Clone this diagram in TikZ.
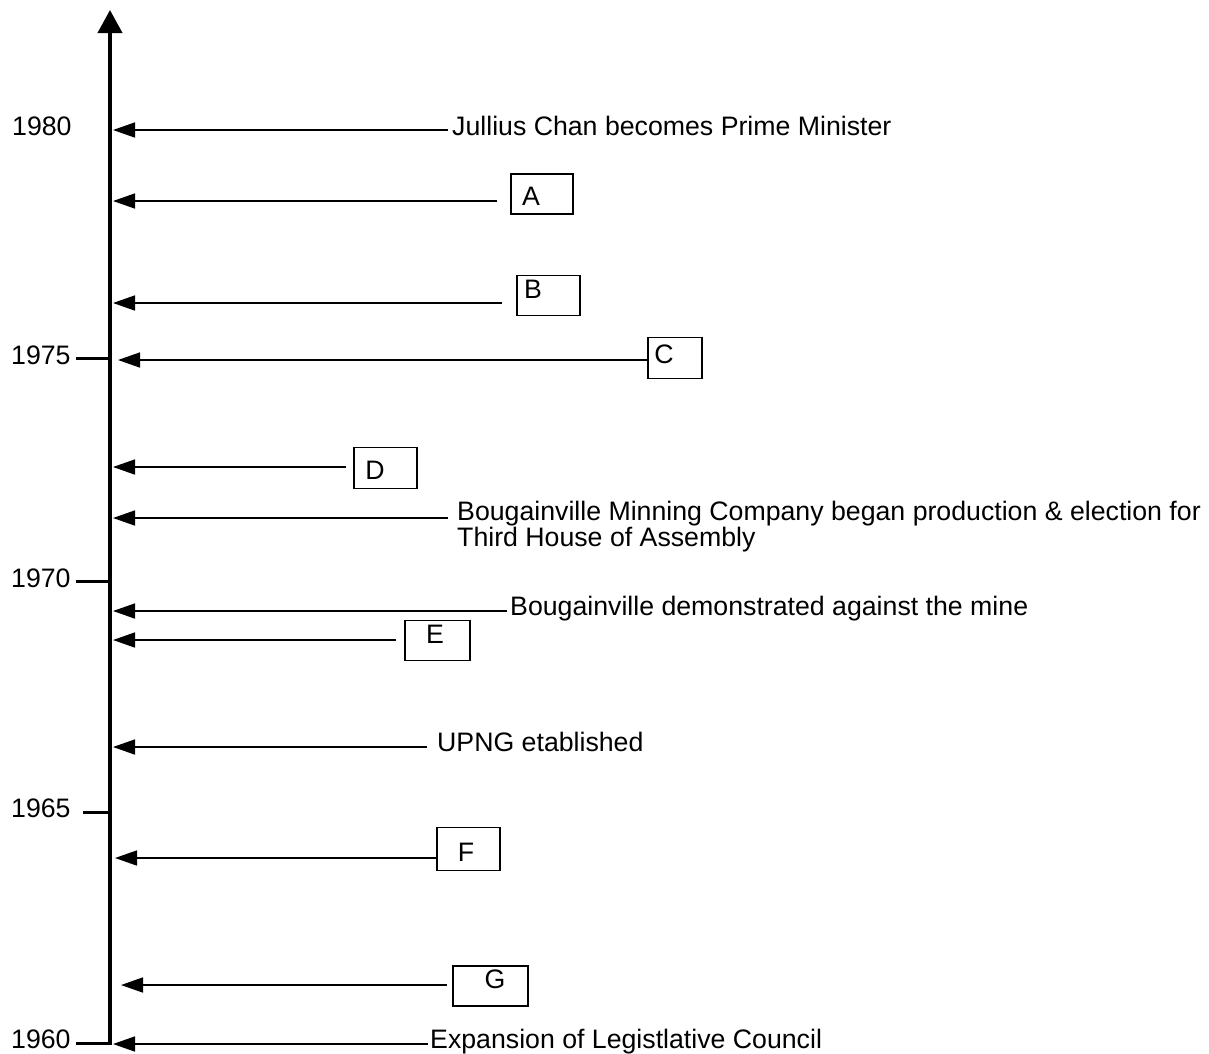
\documentclass[tikz,border=0pt]{standalone}
\usepackage{fontspec}
\setmainfont{Liberation Sans}
\usepackage{tikz}
\usetikzlibrary{arrows.meta}
\usetikzlibrary{calc}

\begin{document}
\begin{tikzpicture}[x=1pt,y=-1pt,
    evt/.style={-{Triangle[length=22pt,width=15pt]},line width=1.6pt},
    ltrbox/.style={draw=black,line width=1.8pt,inner sep=0pt},
    lbl/.style={inner sep=0pt,font=\fontsize{26.7}{24}\selectfont}]
    \useasboundingbox (0,0) rectangle (1209,1053);
    % time axis
    \coordinate (bot) at (110,1045);
    \coordinate (top) at (110,10);
    \draw[line width=4pt,-{Triangle[length=23pt,width=24pt]}] (bot) -- (top);
    \draw[line width=3pt] (76,358) -- (110,358);
    \draw[line width=3pt] (76,581) -- (110,581);
    \draw[line width=3pt] (83,812) -- (110,812);
    \draw[line width=3pt] (76,1043) -- (110,1043);
    \node[lbl,anchor=base west] (y80) at (12,135) {1980};
    \node[lbl,anchor=base west] (y75) at (11,364) {1975};
    \node[lbl,anchor=base west] (y70) at (11,587) {1970};
    \node[lbl,anchor=base west] (y65) at (11,817) {1965};
    \node[lbl,anchor=base west] (y60) at (11,1048) {1960};
    % arrow ends on the axis
    \coordinate (a1) at (113,130);
    \coordinate (a2) at (113,201);
    \coordinate (a3) at (113,303);
    \coordinate (a4) at (118,360);
    \coordinate (a5) at (113,467);
    \coordinate (a6) at (113,518);
    \coordinate (a7) at (113,611);
    \coordinate (a8) at (113,640);
    \coordinate (a9) at (113,747);
    \coordinate (a10) at (115,858);
    \coordinate (a11) at (121,985);
    \coordinate (a12) at (113,1044);
    % events
    \node[lbl,anchor=base west] (chan) at (452,135) {Jullius Chan becomes Prime Minister};
    \node[ltrbox,minimum width=62pt,minimum height=40pt] (bA) at (542,194) {};
    \node[lbl,anchor=base] (A) at (531,205) {A};
    \node[ltrbox,minimum width=63pt,minimum height=40pt] (bB) at (548.5,295.5) {};
    \node[lbl,anchor=base] (B) at (533,298) {B};
    \node[ltrbox,minimum width=54pt,minimum height=41pt] (bC) at (675,358) {};
    \node[lbl,anchor=base] (C) at (664,363) {C};
    \node[ltrbox,minimum width=63pt,minimum height=41pt] (bD) at (385.5,468) {};
    \node[lbl,anchor=base] (D) at (375,479) {D};
    \node[lbl,anchor=base west,align=left] (bmc) at (457,546) {Bougainville Minning Company began production \& election for\\Third House of Assembly};
    \node[lbl,anchor=base west] (demo) at (510,615) {Bougainville demonstrated against the mine};
    \node[ltrbox,minimum width=65pt,minimum height=40pt] (bE) at (437.5,640.5) {};
    \node[lbl,anchor=base] (E) at (435,643) {E};
    \node[lbl,anchor=base west] (upng) at (437,751) {UPNG etablished};
    \node[ltrbox,minimum width=63pt,minimum height=43pt] (bF) at (468.5,849) {};
    \node[lbl,anchor=base] (F) at (466,861) {F};
    \node[ltrbox,minimum width=75pt,minimum height=40pt] (bG) at (490.5,986) {};
    \node[lbl,anchor=base] (G) at (495,988) {G};
    \node[lbl,anchor=base west] (lc) at (430,1048) {Expansion of Legistlative Council};
    \draw[evt,shorten <=4pt] (chan.west |- a1) -- (a1);
    \draw[evt,shorten <=13pt] (bA.west |- a2) -- (a2);
    \draw[evt,shorten <=14pt] (bB.west |- a3) -- (a3);
    \draw[evt] (bC.west |- a4) -- (a4);
    \draw[evt,shorten <=7pt] (bD.west |- a5) -- (a5);
    \draw[evt,shorten <=9pt] (bmc.west |- a6) -- (a6);
    \draw[evt,shorten <=3pt] (demo.west |- a7) -- (a7);
    \draw[evt,shorten <=8pt] (bE.west |- a8) -- (a8);
    \draw[evt,shorten <=10pt] (upng.west |- a9) -- (a9);
    \draw[evt] (bF.west |- a10) -- (a10);
    \draw[evt,shorten <=5pt] (bG.west |- a11) -- (a11);
    \draw[evt,shorten <=2pt] (lc.west |- a12) -- (a12);
  \end{tikzpicture}
\end{document}
